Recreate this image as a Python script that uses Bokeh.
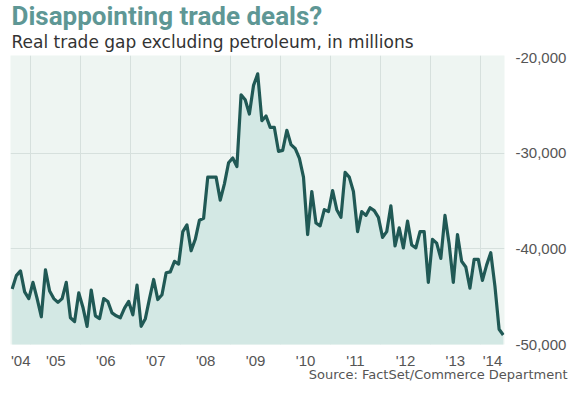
from bokeh.plotting import figure
from bokeh.models import ColumnDataSource, FixedTicker, NumeralTickFormatter, Range1d, Title
from bokeh.embed import file_html
from bokeh.resources import INLINE

# ---- data -------------------------------------------------------------
START_YEAR = 2004
START_MONTH = 8  # first monthly observation: Aug 2004

values = [
    -44200, -42800, -42300, -44500, -45200, -43500, -45200, -47100, -42200, -44400,
    -45200, -45600, -45200, -43500, -47200, -47600, -44600, -46100, -48100, -44300,
    -47000, -47300, -45200, -45500, -46700, -47000, -47200, -46200, -45500, -46900,
    -43800, -48100, -47300, -45200, -43200, -45300, -44800, -42500, -42400, -41300,
    -41600, -38200, -37500, -40200, -39000, -37000, -36800, -32500, -32500, -32500,
    -34900, -33200, -31000, -30500, -31400, -23900, -24400, -25900, -22900, -21700,
    -26600, -26100, -27300, -27300, -29800, -29700, -27600, -29100, -29500, -30500,
    -32500, -38500, -34000, -37300, -37600, -35900, -36100, -33900, -35900, -36700,
    -32000, -32500, -34000, -38200, -36100, -36500, -35700, -36000, -36700, -38800,
    -38200, -35500, -39700, -37800, -39900, -37100, -39600, -39900, -38200, -38200,
    -43500, -39000, -39400, -41000, -36500, -39500, -43500, -38500, -41300, -41900,
    -44100, -41100, -41100, -43300, -41700, -40400, -43900, -48400, -49000,
]

years = list(range(2004, 2015))
year_labels = ["'04", "'05", "'06", "'07", "'08", "'09", "'10", "'11", "'12", "'13", "'14"]
y_ticks = [-20000, -30000, -40000, -50000]
y_grid = [-30000, -40000]

title_text = "Disappointing trade deals?"
subtitle_text = "Real trade gap excluding petroleum, in millions"
source_text = "Source: FactSet/Commerce Department"

# ---- derived ----------------------------------------------------------
x = [START_YEAR + (START_MONTH - 1 + i + 0.5) / 12 for i in range(len(values))]
xmin = x[0] - 0.4 / 12
xmax = x[-1] + 0.3 / 12
src = ColumnDataSource(data=dict(x=x, y=values))

tick_pos = []
for yr in years:
    lo = max(yr, xmin)
    hi = min(yr + 1, xmax)
    tick_pos.append(round((lo + hi) / 2, 3))

p = figure(width=569, height=398, output_backend="svg", toolbar_location=None, tools="",
           x_range=Range1d(xmin, xmax), y_range=Range1d(-50000, -19780),
           y_axis_location="right", title=None,
           min_border_left=10, min_border_right=56, min_border_top=55, min_border_bottom=54)

p.background_fill_color = "#eef5f2"
p.border_fill_color = "white"
p.outline_line_color = None

p.varea(x="x", y1="y", y2=-52000, source=src, fill_color="#d3e8e4")
p.line(x="x", y="y", source=src, line_width=3.2, line_color="#205955", line_join="round")

# grids
p.xgrid.ticker = FixedTicker(ticks=years[1:])
p.ygrid.ticker = FixedTicker(ticks=y_grid)
p.xgrid.grid_line_color = "#d6e0dd"
p.ygrid.grid_line_color = "#d6e0dd"
p.xgrid.level = "underlay"
p.ygrid.level = "underlay"

# axes
xa = p.xaxis[0]
xa.ticker = FixedTicker(ticks=tick_pos)
xa.major_label_overrides = {pos: lab for pos, lab in zip(tick_pos, year_labels)}
xa.axis_line_color = None
xa.major_tick_line_color = None
xa.minor_tick_line_color = None
xa.major_label_text_font = "Liberation Sans"
xa.major_label_text_font_size = "15px"
xa.major_label_text_color = "#555555"
xa.major_label_standoff = 1

ya = p.yaxis[0]
ya.ticker = FixedTicker(ticks=y_ticks)
ya.formatter = NumeralTickFormatter(format="0,0")
ya.axis_line_color = None
ya.major_tick_line_color = None
ya.minor_tick_line_color = None
ya.major_label_text_font = "Liberation Sans"
ya.major_label_text_font_size = "15px"
ya.major_label_text_color = "#555555"
ya.major_label_standoff = 5

# titles
p.add_layout(Title(text=subtitle_text, align="left", text_font="DejaVu Sans",
                   text_font_size="17px", text_font_style="normal", text_color="#333333",
                   standoff=8, offset=1), "above")
p.add_layout(Title(text=title_text, align="left", text_font="Roboto",
                   text_font_size="26px", text_font_style="bold", text_color="#5e9795",
                   standoff=-10, offset=1), "above")
p.add_layout(Title(text=source_text, align="right", text_font="DejaVu Sans",
                   text_font_size="13px", text_font_style="normal", text_color="#555555",
                   standoff=-14, offset=-63), "below")

open("out.html", "w").write(file_html(p, INLINE))
